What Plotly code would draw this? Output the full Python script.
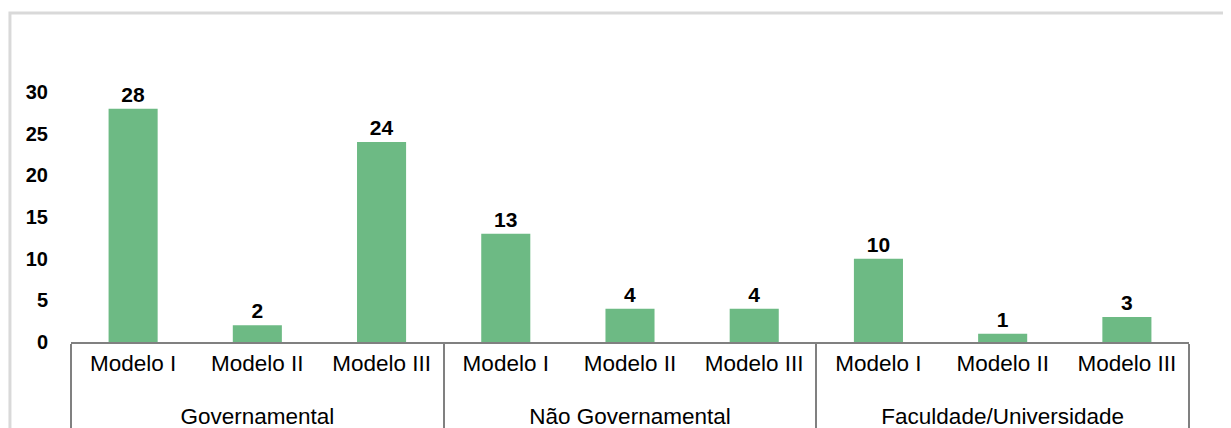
import plotly.graph_objects as go

groups = ["Governamental"] * 3 + ["Não Governamental"] * 3 + ["Faculdade/Universidade"] * 3
models = ["Modelo I", "Modelo II", "Modelo III"] * 3
values = [28, 2, 24, 13, 4, 4, 10, 1, 3]
y_ticks = [0, 5, 10, 15, 20, 25, 30]

BAR = "#6DBA84"
FONT = "Liberation Sans, Arial, sans-serif"

# small blank line under the model labels gives the group row more room
model_labels = [m + "<br><span style='font-size:8px'> </span>" for m in models]

fig = go.Figure(
    go.Bar(
        x=[groups, model_labels],
        y=values,
        marker=dict(color=BAR, line=dict(width=0)),
        text=[str(v) for v in values],
        textposition="outside",
        textfont=dict(family=FONT, size=21, color="#000000", weight="bold"),
        cliponaxis=False,
    )
)

fig.update_layout(
    width=1223,
    height=420,
    margin=dict(l=63, r=42, t=84, b=86, autoexpand=False),
    paper_bgcolor="white",
    plot_bgcolor="white",
    bargap=0.605,
    showlegend=False,
    font=dict(family=FONT, color="#000000"),
    xaxis=dict(
        type="multicategory",
        automargin=False,
        showline=True,
        linecolor="#808080",
        linewidth=1.5,
        showgrid=False,
        zeroline=False,
        showdividers=True,
        dividercolor="#808080",
        dividerwidth=1.5,
        tickfont=dict(family=FONT, size=22.5, color="#000000"),
        ticks="",
    ),
    yaxis=dict(
        range=[0, 30],
        tickvals=y_ticks,
        automargin=False,
        showgrid=False,
        zeroline=False,
        showline=False,
        ticks="",
        ticklabelstandoff=22,
        tickfont=dict(family=FONT, size=20, color="#000000", weight="bold"),
    ),
    shapes=[
        dict(
            type="rect", xref="paper", yref="paper",
            x0=-0.0546, x1=1.06, y0=-0.6, y1=1.316,
            line=dict(color="#D9D9D9", width=3),
            fillcolor="rgba(0,0,0,0)", layer="below",
        )
    ],
)

fig.write_html("out.html")
